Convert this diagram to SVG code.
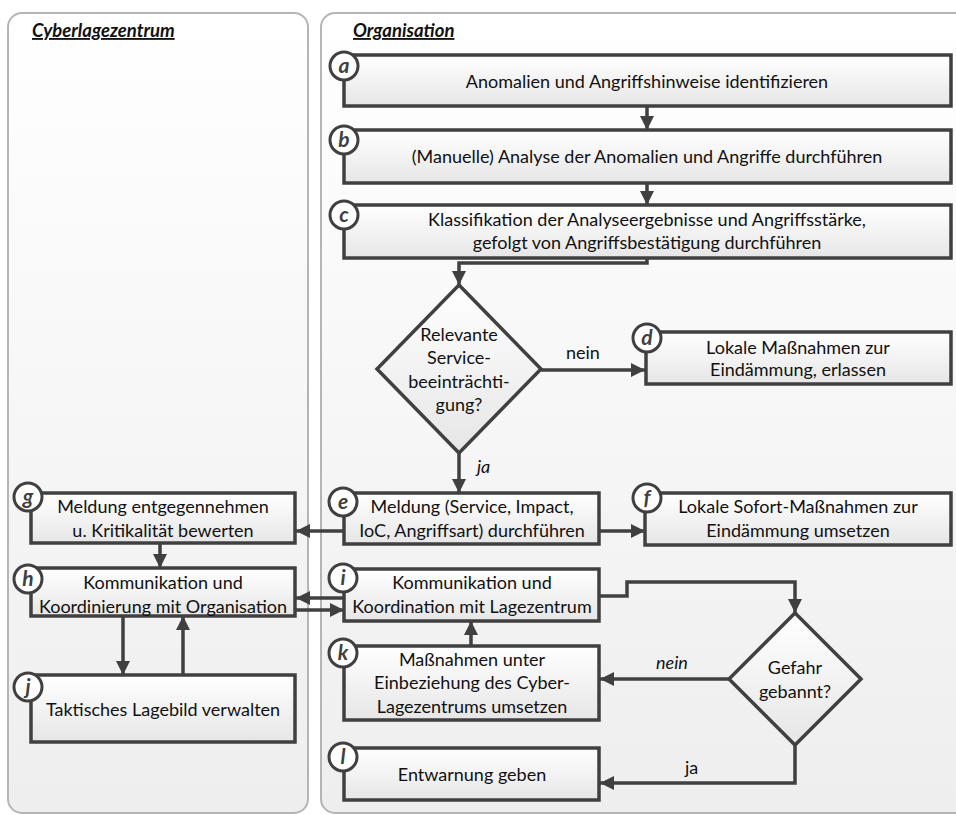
<svg xmlns="http://www.w3.org/2000/svg" width="956" height="815" viewBox="0 0 956 815">
  <defs>
    <linearGradient id="laneFill" x1="0" y1="0" x2="0" y2="1">
      <stop offset="0" stop-color="#ffffff"/>
      <stop offset="1" stop-color="#eeeeee"/>
    </linearGradient>
    <linearGradient id="boxFill" x1="0" y1="0" x2="0" y2="1">
      <stop offset="0" stop-color="#ffffff"/>
      <stop offset="1" stop-color="#e6e6e6"/>
    </linearGradient>
    <marker id="arrow" viewBox="0 0 14 14" refX="14" refY="7" markerWidth="14" markerHeight="14" markerUnits="userSpaceOnUse" orient="auto">
      <path d="M0,0 L14,7 L0,14 Z" fill="#404040"/>
    </marker>
  </defs>
  <style>
    .lane { fill: url(#laneFill); stroke: #b5b5b5; stroke-width: 2; }
    .box { fill: url(#boxFill); stroke: #404040; stroke-width: 3.5; }
    .dia { fill: url(#boxFill); stroke: #404040; stroke-width: 3.5; }
    .badge { fill: #ffffff; stroke: #404040; stroke-width: 3; }
    .bl { font-family: Lato, "Liberation Sans", sans-serif; font-size: 21px; font-weight: bold; font-style: italic; fill: #404040; text-anchor: middle; }
    .t { font-family: Lato, "Liberation Sans", sans-serif; font-size: 18px; fill: #111111; text-anchor: middle; }
    .lbl { font-family: Lato, "Liberation Sans", sans-serif; font-size: 18px; fill: #111111; }
    .it { font-style: italic; }
    .hdr { font-family: Lato, "Liberation Sans", sans-serif; font-size: 18.5px; font-weight: bold; font-style: italic; fill: #111111; text-decoration: underline; }
    .con { fill: none; stroke: #404040; stroke-width: 3.5; marker-end: url(#arrow); }
  </style>

  <!-- swimlanes -->
  <g id="lane-cyberlagezentrum">
    <rect class="lane" x="8" y="13" width="300" height="800" rx="14"/>
    <text class="hdr" x="32" y="37">Cyberlagezentrum</text>
  </g>
  <g id="lane-organisation">
    <rect class="lane" x="321" y="13" width="660" height="800" rx="14"/>
    <text class="hdr" x="353" y="37">Organisation</text>
  </g>

  <!-- connectors -->
  <g id="connectors">
    <path class="con" d="M647,106 V130"/>
    <path class="con" d="M647,183 V205"/>
    <path class="con" d="M647,258 V263 H459 V285"/>
    <path class="con" d="M541,370 H645"/>
    <path class="con" d="M459,453 V493"/>
    <path class="con" d="M344,531 H296"/>
    <path class="con" d="M599,531 H645"/>
    <path class="con" d="M160,543 V568"/>
    <path class="con" d="M123,616 V675"/>
    <path class="con" d="M183,675 V616"/>
    <path class="con" d="M344,598 H296"/>
    <path class="con" d="M295,610 H344"/>
    <path class="con" d="M599,596 H627 V582 H795 V613"/>
    <path class="con" d="M729,679 H600"/>
    <path class="con" d="M471,646 V621"/>
    <path class="con" d="M795,745 V783 H600"/>
    <text class="lbl" x="566" y="359">nein</text>
    <text class="lbl it" x="477" y="473">ja</text>
    <text class="lbl it" x="656" y="669">nein</text>
    <text class="lbl" x="685" y="774">ja</text>
  </g>

  <!-- process steps -->
  <g id="node-a">
    <rect class="box" x="344" y="55" width="607" height="51"/>
    <circle class="badge" cx="344" cy="66" r="14"/>
    <text class="bl" x="344" y="73">a</text>
    <text class="t" x="647" y="88">Anomalien und Angriffshinweise identifizieren</text>
  </g>
  <g id="node-b">
    <rect class="box" x="344" y="130" width="607" height="53"/>
    <circle class="badge" cx="344" cy="140" r="14"/>
    <text class="bl" x="344" y="147">b</text>
    <text class="t" x="647" y="163">(Manuelle) Analyse der Anomalien und Angriffe durchführen</text>
  </g>
  <g id="node-c">
    <rect class="box" x="344" y="205" width="607" height="53"/>
    <circle class="badge" cx="344" cy="215" r="14"/>
    <text class="bl" x="344" y="222">c</text>
    <text class="t" x="647" y="226">Klassifikation der Analyseergebnisse und Angriffsstärke,</text>
    <text class="t" x="647" y="249">gefolgt von Angriffsbestätigung durchführen</text>
  </g>
  <g id="decision-service">
    <polygon class="dia" points="459,285 541,369 459,453 377,369"/>
    <text class="t" x="459" y="341">Relevante</text>
    <text class="t" x="459" y="364">Service-</text>
    <text class="t" x="459" y="388">beeinträchti-</text>
    <text class="t" x="459" y="411">gung?</text>
  </g>
  <g id="node-d">
    <rect class="box" x="646" y="332" width="305" height="52"/>
    <circle class="badge" cx="647" cy="338" r="14"/>
    <text class="bl" x="647" y="345">d</text>
    <text class="t" x="798" y="354">Lokale Maßnahmen zur</text>
    <text class="t" x="798" y="376">Eindämmung, erlassen</text>
  </g>
  <g id="node-e">
    <rect class="box" x="344" y="493" width="255" height="51"/>
    <circle class="badge" cx="343" cy="502" r="14"/>
    <text class="bl" x="343" y="509">e</text>
    <text class="t" x="472" y="513">Meldung (Service, Impact,</text>
    <text class="t" x="472" y="537">IoC, Angriffsart) durchführen</text>
  </g>
  <g id="node-f">
    <rect class="box" x="645" y="493" width="306" height="52"/>
    <circle class="badge" cx="647" cy="498" r="14"/>
    <text class="bl" x="647" y="505">f</text>
    <text class="t" x="798" y="513">Lokale Sofort-Maßnahmen zur</text>
    <text class="t" x="798" y="537">Eindämmung umsetzen</text>
  </g>
  <g id="node-g">
    <rect class="box" x="31" y="493" width="264" height="50"/>
    <circle class="badge" cx="28" cy="497" r="14"/>
    <text class="bl" x="28" y="504">g</text>
    <text class="t" x="163" y="513">Meldung entgegennehmen</text>
    <text class="t" x="163" y="537">u. Kritikalität bewerten</text>
  </g>
  <g id="node-h">
    <rect class="box" x="31" y="568" width="264" height="48"/>
    <circle class="badge" cx="28" cy="579" r="14"/>
    <text class="bl" x="28" y="586">h</text>
    <text class="t" x="163" y="589">Kommunikation und</text>
    <text class="t" x="163" y="613">Koordinierung mit Organisation</text>
  </g>
  <g id="node-i">
    <rect class="box" x="344" y="569" width="255" height="52"/>
    <circle class="badge" cx="343" cy="578" r="14"/>
    <text class="bl" x="343" y="585">i</text>
    <text class="t" x="472" y="589">Kommunikation und</text>
    <text class="t" x="472" y="613">Koordination mit Lagezentrum</text>
  </g>
  <g id="node-j">
    <rect class="box" x="31" y="675" width="264" height="67"/>
    <circle class="badge" cx="28" cy="687" r="14"/>
    <text class="bl" x="28" y="694">j</text>
    <text class="t" x="163" y="716">Taktisches Lagebild verwalten</text>
  </g>
  <g id="node-k">
    <rect class="box" x="344" y="646" width="255" height="74"/>
    <circle class="badge" cx="343" cy="653" r="14"/>
    <text class="bl" x="343" y="660">k</text>
    <text class="t" x="472" y="666">Maßnahmen unter</text>
    <text class="t" x="472" y="689">Einbeziehung des Cyber-</text>
    <text class="t" x="472" y="713">Lagezentrums umsetzen</text>
  </g>
  <g id="decision-gefahr">
    <polygon class="dia" points="795,613 861,679 795,745 729,679"/>
    <text class="t" x="795" y="674">Gefahr</text>
    <text class="t" x="795" y="698">gebannt?</text>
  </g>
  <g id="node-l">
    <rect class="box" x="344" y="748" width="255" height="52"/>
    <circle class="badge" cx="343" cy="757" r="14"/>
    <text class="bl" x="343" y="764">l</text>
    <text class="t" x="472" y="781">Entwarnung geben</text>
  </g>
</svg>
